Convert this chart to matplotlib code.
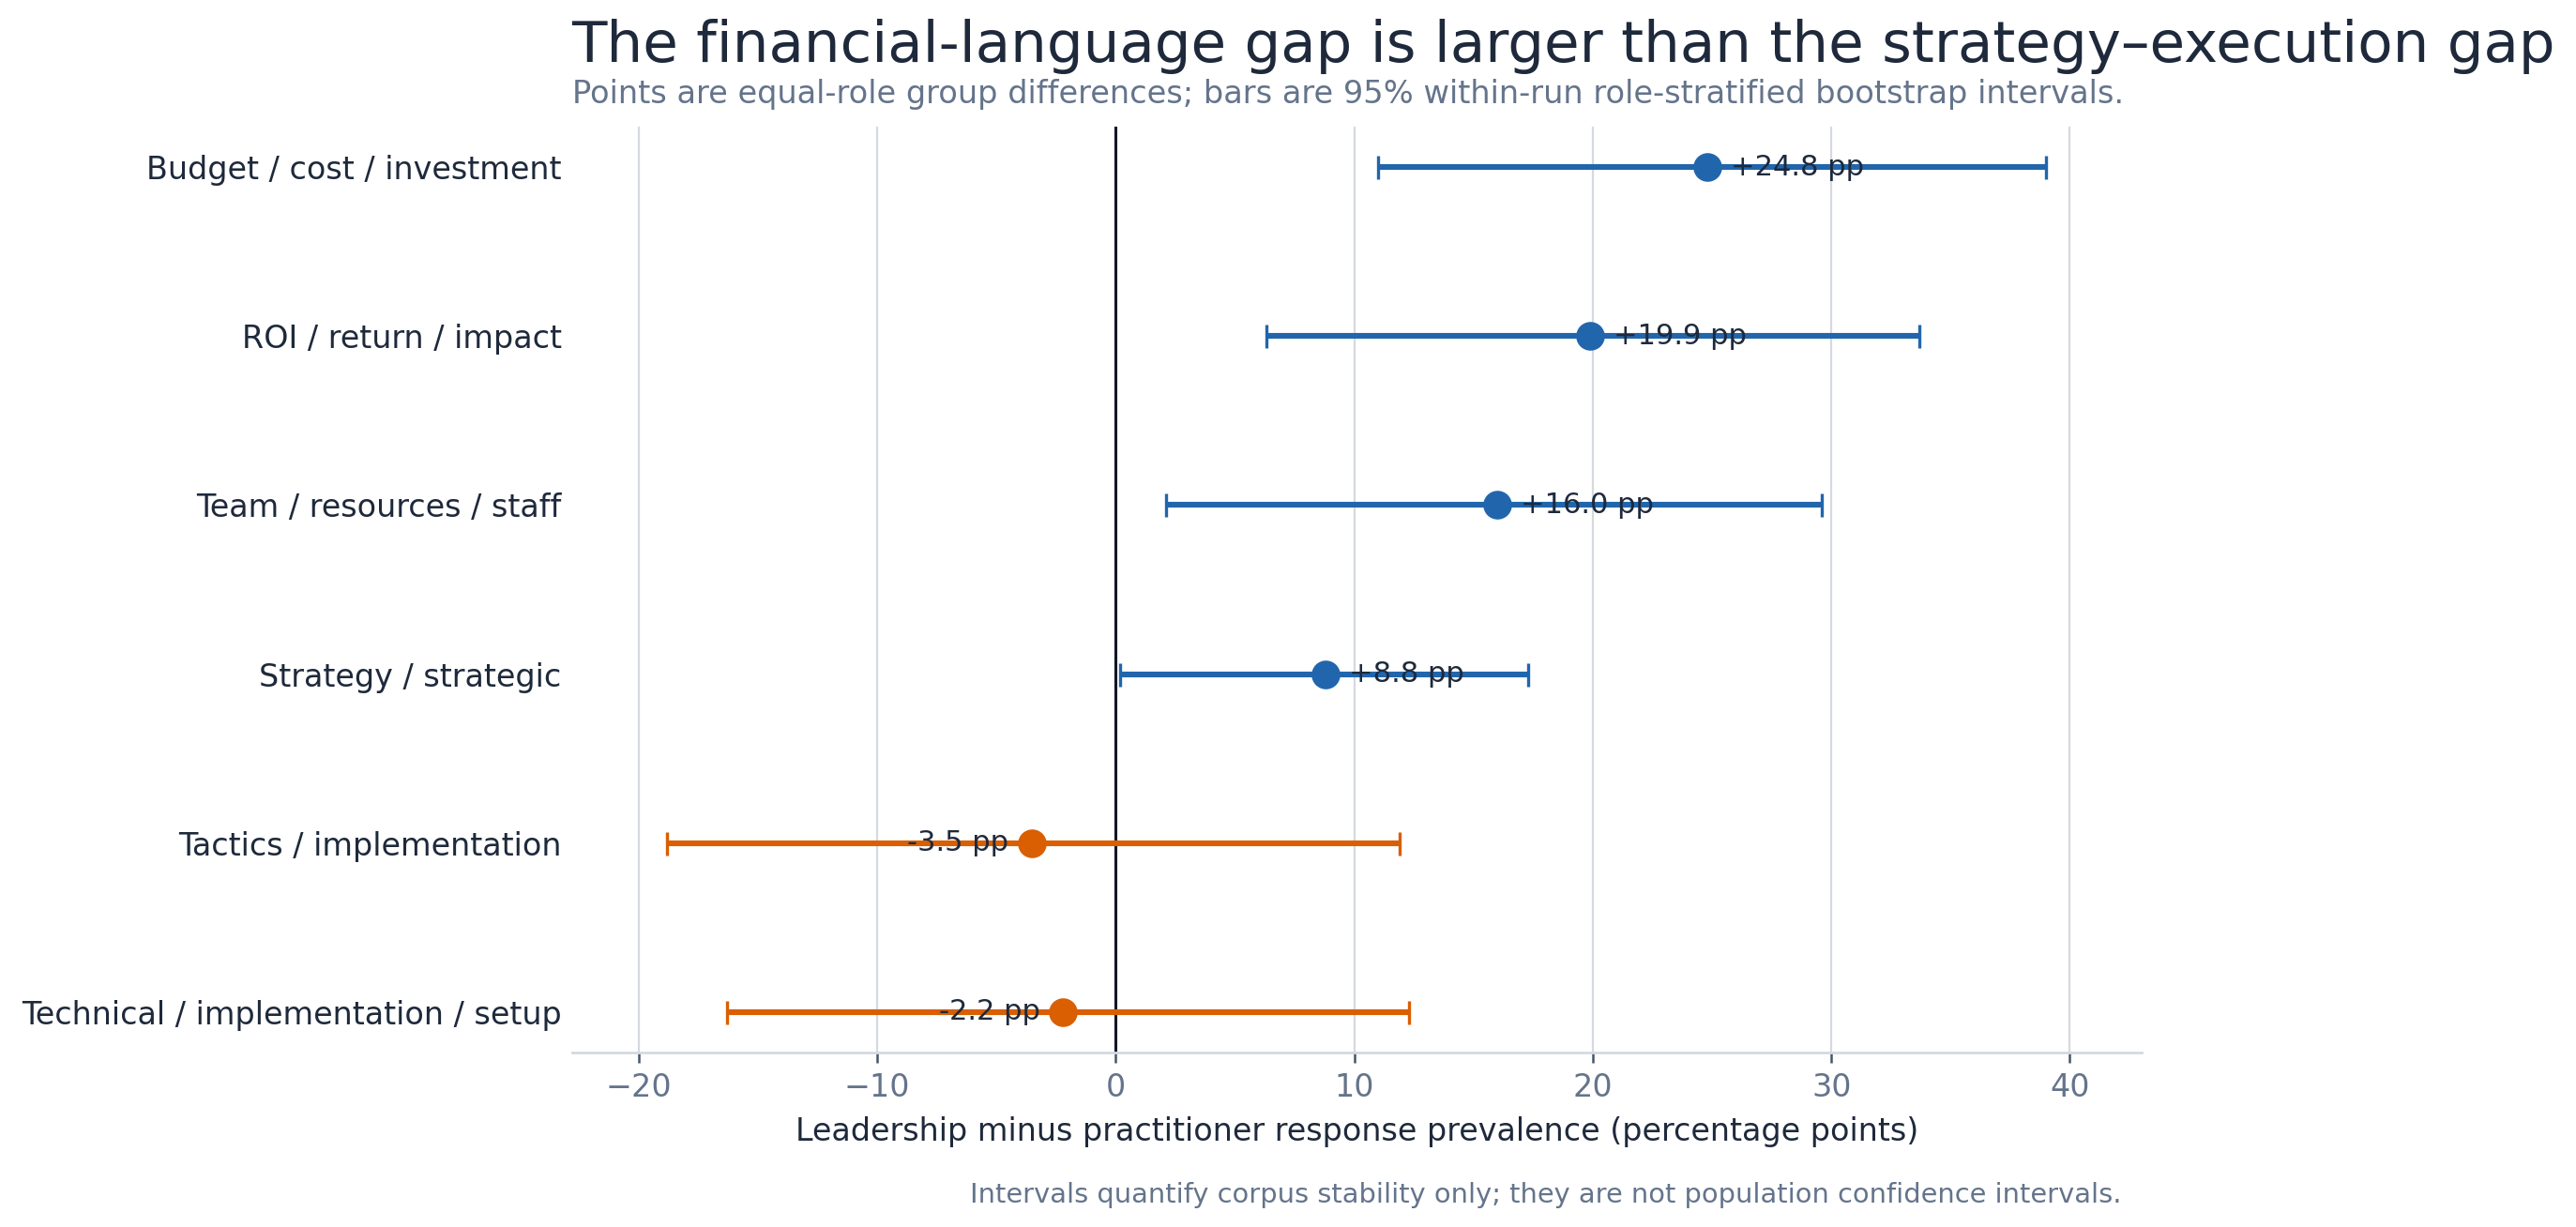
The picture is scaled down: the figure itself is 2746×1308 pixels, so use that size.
import matplotlib
matplotlib.use('Agg')
import matplotlib.pyplot as plt
import numpy as np

plt.rcParams['font.family'] = ['DejaVu Sans']

# Данные: категории сверху вниз
categories = [
    'Budget / cost / investment',
    'ROI / return / impact',
    'Team / resources / staff',
    'Strategy / strategic',
    'Tactics / implementation',
    'Technical / implementation / setup',
]
diffs = [24.8, 19.9, 16.0, 8.8, -3.5, -2.2]
ci_low = [11.0, 6.3, 2.1, 0.2, -18.8, -16.3]
ci_high = [39.0, 33.7, 29.6, 17.3, 11.9, 12.3]

# Цвета
blue = '#2166ac'
orange = '#d95f02'
dark = '#1e293b'
gray = '#64748b'
grid_col = '#d5d9e0'

fig = plt.figure(figsize=(13.73, 6.54), dpi=200)
ax = fig.add_axes([0.222, 0.1422, 0.6093, 0.7546])

y = np.arange(len(categories))
for yi, d, lo, hi in zip(y, diffs, ci_low, ci_high):
    col = blue if d >= 0 else orange
    ax.errorbar(d, yi, xerr=[[d - lo], [hi - d]], fmt='o', color=col,
                ecolor=col, elinewidth=2.2, capsize=4.5, capthick=1.2,
                markersize=10, zorder=3)
    if d >= 0:
        ax.annotate(f'+{d:.1f} pp', (d, yi), textcoords='offset points',
                    xytext=(9, 0), ha='left', va='center', fontsize=11,
                    color=dark, zorder=4)
    else:
        ax.annotate(f'-{abs(d):.1f} pp', (d, yi), textcoords='offset points',
                    xytext=(-9, 0), ha='right', va='center', fontsize=11,
                    color=dark, zorder=4)

ax.axvline(0, color='#111827', linewidth=1.1, zorder=2)

ax.set_yticks(y)
ax.set_yticklabels(categories, fontsize=12, color=dark)
ax.set_ylim(len(categories) - 1 + 0.24, -0.24)
ax.set_xlim(-22.8, 43.0)
ax.set_xticks([-20, -10, 0, 10, 20, 30, 40])
ax.tick_params(axis='y', length=0, pad=4)
ax.tick_params(axis='x', labelsize=12, colors='#475569', labelcolor=gray,
               length=4, width=0.9)

ax.grid(axis='x', color=grid_col, linewidth=0.8, zorder=0)
ax.set_axisbelow(True)
for s in ['top', 'right', 'left']:
    ax.spines[s].set_visible(False)
ax.spines['bottom'].set_color(grid_col)
ax.spines['bottom'].set_linewidth(1.0)

ax.set_xlabel('Leadership minus practitioner response prevalence (percentage points)',
              fontsize=12, color=dark, labelpad=5)

fig.text(0.222, 0.9625, 'The financial-language gap is larger than the strategy\u2013execution gap',
         fontsize=22, color=dark, ha='left', va='center')
fig.text(0.222, 0.9235, 'Points are equal-role group differences; bars are 95% within-run '
         'role-stratified bootstrap intervals.',
         fontsize=12.1, color=gray, ha='left', va='center')
fig.text(0.8234, 0.026, 'Intervals quantify corpus stability only; they are not population '
         'confidence intervals.', fontsize=10.4, color=gray, ha='right', va='center')

fig.savefig('out.png', dpi=200)
